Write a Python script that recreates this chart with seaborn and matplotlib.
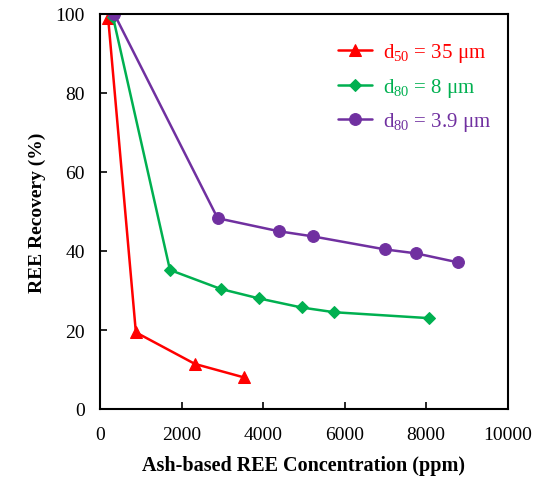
import matplotlib
matplotlib.use("Agg")
import matplotlib.pyplot as plt
import seaborn as sns
import pandas as pd

red_x = [200, 880, 2330, 3530]
red_y = [99.0, 19.4, 11.4, 8.0]
green_x = [320, 1716, 2958, 3897, 4943, 5743, 8071]
green_y = [99.2, 35.2, 30.4, 28.0, 25.7, 24.5, 23.0]
purple_x = [350, 2885, 4387, 5221, 6993, 7752, 8791]
purple_y = [100.0, 48.3, 45.0, 43.7, 40.4, 39.4, 37.1]
labels = [r"d$_{50}$ = 35 μm", r"d$_{80}$ = 8 μm", r"d$_{80}$ = 3.9 μm"]
colors = ["#FF0000", "#00B050", "#7030A0"]
markers = ["^", "D", "o"]
msizes = [9, 6.5, 8.5]

sns.set_theme(style="white")
plt.rcParams["font.family"] = ["Liberation Serif", "DejaVu Serif"]
plt.rcParams["mathtext.fontset"] = "custom"
plt.rcParams["mathtext.rm"] = "Liberation Serif"
plt.rcParams["mathtext.it"] = "Liberation Serif"
plt.rcParams["text.color"] = "black"
plt.rcParams["axes.labelcolor"] = "black"

fig = plt.figure(figsize=(5.37, 4.81), dpi=100)
ax = fig.add_axes([100/537, 1-410/481, 407.7/537, 395/481])

series = [(red_x, red_y), (green_x, green_y), (purple_x, purple_y)]
for (xs, ys), lab, c, m, ms in zip(series, labels, colors, markers, msizes):
    df = pd.DataFrame({"x": xs, "y": ys})
    sns.lineplot(data=df, x="x", y="y", ax=ax, color=c, marker=m, markersize=ms,
                 markeredgecolor=c, linewidth=1.8, sort=False, label=lab)

ax.set_xlim(0, 10000)
ax.set_ylim(0, 100)
ax.set_xticks([0, 2000, 4000, 6000, 8000, 10000])
ax.set_yticks([0, 20, 40, 60, 80, 100])
ax.tick_params(direction="in", length=5, width=1.2, labelsize=14, colors="black",
               top=False, right=False, bottom=True, left=True)
ax.tick_params(axis="x", pad=12)
ax.tick_params(axis="y", pad=11)
for s in ax.spines.values():
    s.set_color("black")
    s.set_linewidth(1.5)
ax.set_xlabel("Ash-based REE Concentration (ppm)", fontsize=14.5, fontweight="bold", labelpad=9)
ax.set_ylabel("REE Recovery (%)", fontsize=14, fontweight="bold", labelpad=7)

leg = ax.legend(loc="upper right", frameon=False, fontsize=15, handlelength=1.65,
                handletextpad=0.5, bbox_to_anchor=(1.005, 0.978), labelspacing=0.55)
for t, c in zip(leg.get_texts(), colors):
    t.set_color(c)

fig.savefig("out.png", dpi=100)
